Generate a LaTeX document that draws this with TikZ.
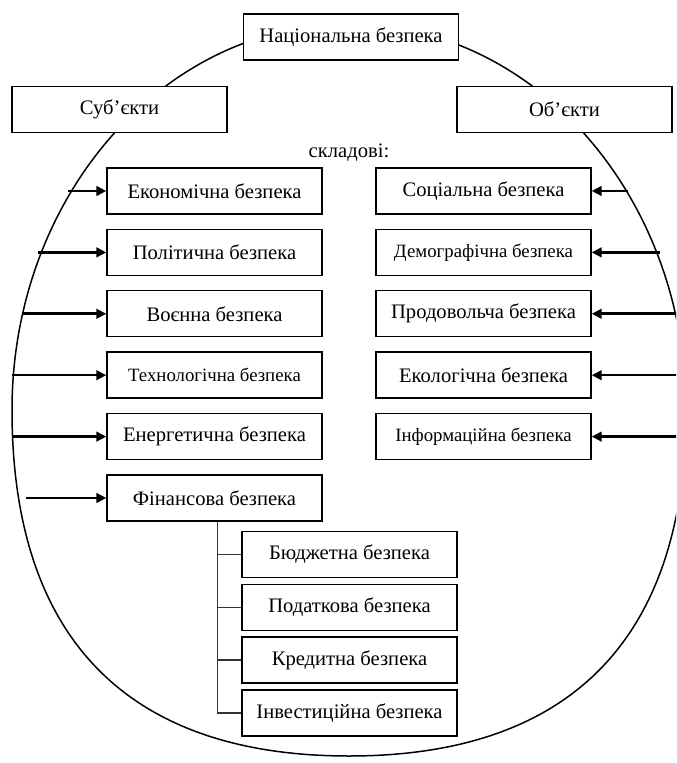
\documentclass[tikz,border=0pt]{standalone}
\usepackage{fontspec}
\setmainfont{Liberation Serif}
\usetikzlibrary{positioning,arrows.meta}
\tikzset{
  box/.style={rectangle, draw, fill=white, line width=0.7pt, minimum width=107.5pt,
              minimum height=23pt, inner sep=2pt, font=\fontsize{10.3}{12}\selectfont},
  boxs/.style={box, font=\fontsize{9.4}{11}\selectfont},
  lbl/.style={inner sep=1pt, font=\fontsize{10.3}{12}\selectfont},
  flow/.style={-{Triangle[length=5pt,width=4.8pt]}, line width=1.3pt},
  tree/.style={line width=0.7pt, draw=black!80},
  oval/.style={line width=0.75pt}
}
\begin{document}
\begin{tikzpicture}[x=0.5pt, y=-0.5pt, node distance=7pt and 26.3pt]
\useasboundingbox (0,0) rectangle (676,763);
\clip (0,0) rectangle (676,763);
% outer oval
\draw[oval] (686,410) .. controls (686,197) and (535,24) .. (349,24)
  .. controls (163,24) and (12,197) .. (12,410)
  .. controls (12,638) and (127,756) .. (349,756)
  .. controls (571,756) and (686,638) .. cycle;
% top
\node[box] (nat) at (351,37) {Національна безпека};
\node[box] (subj) at (119.5,109.5) {Суб’єкти};
\node[box] (obj) at (564.5,109.5) {Об’єкти};
\node[lbl] (skl) at (349,153) {складові:};
% left column
\node[box] (econ) at (214.5,191) {Економічна безпека};
\node[box, below=of econ] (polit) {Політична безпека};
\node[box, below=of polit] (war) {Воєнна безпека};
\node[boxs, below=of war] (tech) {Технологічна безпека};
\node[box, below=of tech] (energ) {Енергетична безпека};
\node[box, below=of energ] (fin) {Фінансова безпека};
% right column
\node[box, right=of econ] (soc) {Соціальна безпека};
\node[boxs, right=of polit] (demo) {Демографічна безпека};
\node[box, right=of war] (food) {Продовольча безпека};
\node[box, right=of tech] (eco) {Екологічна безпека};
\node[boxs, right=of energ] (info) {Інформаційна безпека};
% financial parts
\node[box] (budg) at (349.5,554.5) {Бюджетна безпека};
\node[box, below=2.7pt of budg] (tax) {Податкова безпека};
\node[box, below=2.7pt of tax] (cred) {Кредитна безпека};
\node[box, below=2.7pt of cred] (inv) {Інвестиційна безпека};
% arrow ends on the oval
\coordinate (a1) at (68,191);  \coordinate (a2) at (38,252);
\coordinate (a3) at (22,314);  \coordinate (a4) at (12,375);
\coordinate (a5) at (12,436);  \coordinate (a6) at (26,497);
\coordinate (b1) at (628,191); \coordinate (b2) at (660,252);
\coordinate (b3) at (682,314); \coordinate (b4) at (685,375);
\coordinate (b5) at (685,436);
\draw[flow] (a1 |- econ.west) -- (econ.west);
\draw[flow] (a2 |- polit.west) -- (polit.west);
\draw[flow] (a3 |- war.west) -- (war.west);
\draw[flow] (a4 |- tech.west) -- (tech.west);
\draw[flow] (a5 |- energ.west) -- (energ.west);
\draw[flow] (a6 |- fin.west) -- (fin.west);
\draw[flow] (b1 |- soc.east) -- (soc.east);
\draw[flow] (b2 |- demo.east) -- (demo.east);
\draw[flow] (b3 |- food.east) -- (food.east);
\draw[flow] (b4 |- eco.east) -- (eco.east);
\draw[flow] (b5 |- info.east) -- (info.east);
% tree
\draw[tree] ([xshift=1.5pt]fin.south) |- (budg.west);
\draw[tree] ([xshift=1.5pt]fin.south) |- (tax.west);
\draw[tree] ([xshift=1.5pt]fin.south) |- (cred.west);
\draw[tree] ([xshift=1.5pt]fin.south) |- (inv.west);
\end{tikzpicture}
\end{document}
